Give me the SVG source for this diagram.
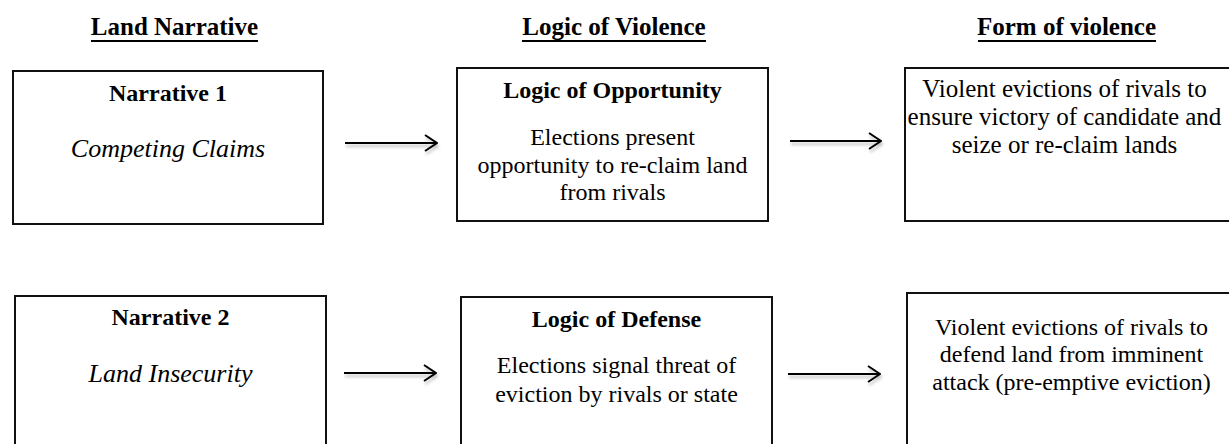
<svg xmlns="http://www.w3.org/2000/svg" width="1229" height="444" viewBox="0 0 1229 444">
  <style>
    .box { fill: #ffffff; stroke: #111111; stroke-width: 2; }
    .hdr { font-family: "Liberation Serif", "Times New Roman", serif; font-size: 25px; font-weight: bold; fill: #000; text-anchor: middle; }
    .ttl { font-family: "Liberation Serif", "Times New Roman", serif; font-size: 24px; font-weight: bold; fill: #000; text-anchor: middle; }
    .txt { font-family: "Liberation Serif", "Times New Roman", serif; font-size: 24px; fill: #000; text-anchor: middle; }
    .big { font-size: 25px; }
    .it { font-family: "Liberation Serif", "Times New Roman", serif; font-size: 26px; font-style: italic; fill: #000; text-anchor: middle; }
    .ul { stroke: #000; stroke-width: 2; }
    .arrow { stroke: #000; stroke-width: 2; fill: none; marker-end: url(#head); }
  </style>
  <defs>
    <marker id="head" viewBox="0 0 14 18" refX="13" refY="9" markerWidth="14" markerHeight="18" markerUnits="userSpaceOnUse" orient="auto">
      <path d="M1,1 L13,9 L1,17" fill="none" stroke="#000" stroke-width="2"/>
    </marker>
    <filter id="soft" x="-10%" y="-100%" width="130%" height="400%">
      <feDropShadow dx="1" dy="3" stdDeviation="1.5" flood-color="#000" flood-opacity="0.25"/>
    </filter>
  </defs>
  <rect width="1229" height="444" fill="#ffffff"/>

  <!-- column headers -->
  <g id="headers">
    <text class="hdr" x="174.5" y="35">Land Narrative</text>
    <line class="ul" x1="91" y1="41" x2="258" y2="41"/>
    <text class="hdr" x="614" y="35">Logic of Violence</text>
    <line class="ul" x1="522" y1="41" x2="706" y2="41"/>
    <text class="hdr" x="1066.5" y="35">Form of violence</text>
    <line class="ul" x1="978" y1="41" x2="1156" y2="41"/>
  </g>

  <!-- row 1 -->
  <g id="narrative1">
    <rect class="box" x="13" y="71" width="310" height="153"/>
    <text class="ttl" x="168" y="101">Narrative 1</text>
    <text class="it" x="168" y="157">Competing Claims</text>
  </g>
  <g id="opportunity">
    <rect class="box" x="457" y="68" width="311" height="153"/>
    <text class="ttl" x="612.5" y="98">Logic of Opportunity</text>
    <text class="txt" x="612.5" y="145">Elections present</text>
    <text class="txt" x="612.5" y="172.5">opportunity to re-claim land</text>
    <text class="txt" x="612.5" y="200">from rivals</text>
  </g>
  <g id="form1">
    <rect class="box" x="905" y="68" width="335" height="153"/>
    <text class="txt big" x="1064.5" y="97">Violent evictions of rivals to</text>
    <text class="txt big" x="1064.5" y="125">ensure victory of candidate and</text>
    <text class="txt big" x="1064.5" y="153">seize or re-claim lands</text>
  </g>

  <!-- row 2 -->
  <g id="narrative2">
    <rect class="box" x="15" y="296" width="311" height="170"/>
    <text class="ttl" x="170.5" y="325">Narrative 2</text>
    <text class="it" x="170.5" y="381.5">Land Insecurity</text>
  </g>
  <g id="defense">
    <rect class="box" x="461" y="297" width="311" height="170"/>
    <text class="ttl" x="616.5" y="327">Logic of Defense</text>
    <text class="txt" x="616.5" y="373">Elections signal threat of</text>
    <text class="txt" x="616.5" y="401.5">eviction by rivals or state</text>
  </g>
  <g id="form2">
    <rect class="box" x="907" y="293" width="335" height="170"/>
    <text class="txt" x="1071.5" y="334.5">Violent evictions of rivals to</text>
    <text class="txt" x="1071.5" y="362">defend land from imminent</text>
    <text class="txt" x="1071.5" y="389.5">attack (pre-emptive eviction)</text>
  </g>

  <!-- connectors -->
  <g id="connectors" filter="url(#soft)">
    <line class="arrow" x1="345" y1="143" x2="437" y2="143"/>
    <line class="arrow" x1="790" y1="141" x2="881" y2="141"/>
    <line class="arrow" x1="344" y1="373" x2="436" y2="373"/>
    <line class="arrow" x1="788" y1="374" x2="880" y2="374"/>
  </g>
</svg>
